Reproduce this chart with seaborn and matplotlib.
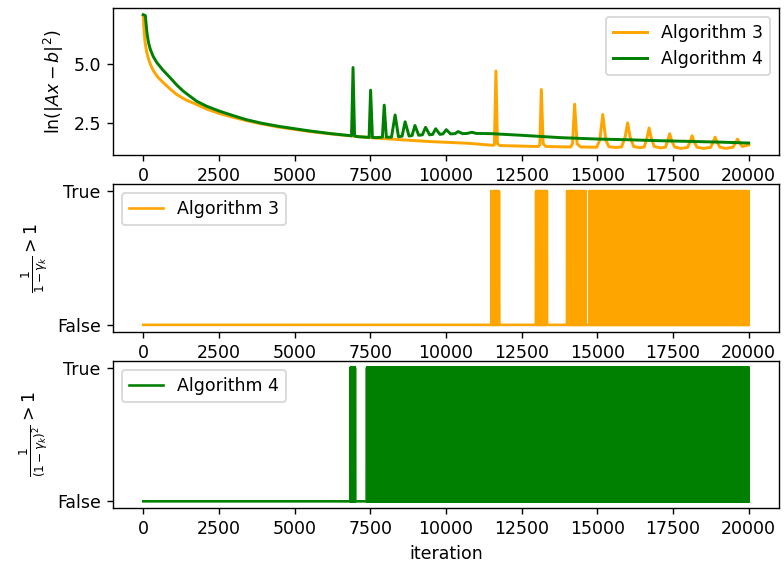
import numpy as np
import matplotlib
matplotlib.use('Agg')
import matplotlib.pyplot as plt
import seaborn as sns

# ln(|Ax-b|^2): (iteration, value) pairs
alg3_iter = [0, 30, 60, 110, 175, 250, 340, 480, 666, 880, 1100, 1400, 1760,
             2100, 2525, 3000, 3400, 3900, 4490, 5500, 6500,
             7500, 8500, 9500, 10720, 11550, 11600, 11650, 11700, 11780,
             13050, 13100, 13150, 13210, 13300, 14120, 14180, 14250, 14330,
             14450, 14980, 15080, 15180, 15280, 15380, 15600,
             15800, 15920, 16000, 16080, 16200, 16400,
             16550, 16640, 16710, 16780, 16880, 17080,
             17250, 17330, 17390, 17450, 17550, 17750,
             17980, 18070, 18130, 18190, 18290, 18500,
             18740, 18830, 18890, 18950, 19050, 19250,
             19480, 19570, 19630, 19690, 19790, 20000]
alg3_loss = [7.08, 6.40, 5.95, 5.55, 5.22, 4.95, 4.71, 4.45, 4.21, 3.95, 3.71,
             3.48, 3.28, 3.08, 2.89, 2.72, 2.59, 2.45, 2.31, 2.12, 1.98,
             1.86, 1.77, 1.69, 1.62, 1.53, 1.56, 4.71, 1.60, 1.52,
             1.48, 1.55, 3.92, 1.60, 1.48, 1.46, 1.60, 3.29, 1.60,
             1.46, 1.45, 1.75, 2.85, 1.75, 1.47, 1.44,
             1.46, 1.90, 2.49, 1.90, 1.48, 1.43,
             1.46, 1.85, 2.27, 1.85, 1.48, 1.42,
             1.45, 1.75, 2.03, 1.75, 1.46, 1.40,
             1.44, 1.70, 1.94, 1.70, 1.45, 1.40,
             1.44, 1.68, 1.88, 1.68, 1.45, 1.40,
             1.45, 1.65, 1.80, 1.65, 1.48, 1.55]

alg4_iter = [0, 70, 120, 170, 230, 330, 450, 650, 885, 1100, 1320, 1760, 2100,
             2525, 3000, 3400, 3900, 4490, 5476,
             6200, 6880, 6930, 6980, 7100, 7460, 7510, 7570, 7700, 7900, 7960,
             8030, 8200, 8320, 8430, 8550, 8650, 8780, 8880, 8975, 9100, 9220,
             9325, 9460, 9560, 9660, 9800, 9900, 10010, 10150, 10300, 10400,
             10550, 10700, 10850, 11000, 11500, 12500, 13770, 15000, 16000,
             17000, 18000, 19000, 20000]
alg4_loss = [7.12, 7.08, 6.37, 5.95, 5.65, 5.33, 5.07, 4.75, 4.43, 4.12, 3.85,
             3.42, 3.20, 2.99, 2.79, 2.63, 2.48, 2.34, 2.15,
             2.03, 1.94, 4.86, 1.93, 1.90, 1.87, 3.89, 1.87, 1.86, 1.88,
             3.25, 1.88, 1.88, 2.83, 1.90, 1.92, 2.54, 1.93, 1.95, 2.38, 1.96,
             1.98, 2.30, 1.98, 2.00, 2.24, 2.00, 2.02, 2.20, 2.02, 2.03, 2.12,
             2.03, 2.04, 2.09, 2.04, 2.03, 1.96, 1.86, 1.80, 1.77, 1.73, 1.70,
             1.67, 1.63]

# stretches of iterations where the condition flips between True and False
n_iter = 20000
alg3_true_blocks = [(11500, 11750), (12975, 13335), (14000, 14610),
                    (14740, 20000)]
alg4_true_blocks = [(6845, 6995), (7390, 20000)]

iterations = np.arange(n_iter + 1)


def condition_flags(blocks):
    flags = np.zeros(n_iter + 1, dtype=int)
    for start, stop in blocks:
        idx = iterations[start:stop + 1]
        flags[start:stop + 1] = ((idx - start) % 2 == 1).astype(int)
    return flags


dpi = 125
fig, (ax1, ax2, ax3) = plt.subplots(3, 1, figsize=(784 / dpi, 568 / dpi),
                                    dpi=dpi)
fig.subplots_adjust(left=0.1441, right=0.9936, top=0.9859, bottom=0.1056,
                    hspace=0.2)

sns.lineplot(x=alg3_iter, y=alg3_loss, ax=ax1, color='orange',
             label='Algorithm 3', estimator=None, linewidth=1.7)
sns.lineplot(x=alg4_iter, y=alg4_loss, ax=ax1, color='green',
             label='Algorithm 4', estimator=None, linewidth=1.7)
ax1.set_yticks([2.5, 5.0])
ax1.set_ylabel(r'$\ln(|Ax-b|^2)$')
ax1.legend(loc='upper right')

sns.lineplot(x=iterations, y=condition_flags(alg3_true_blocks), ax=ax2,
             color='orange', label='Algorithm 3', estimator=None)
ax2.set_yticks([0, 1])
ax2.set_yticklabels(['False', 'True'])
ax2.set_ylabel(r'$\frac{1}{1-\gamma_k} > 1$')
ax2.legend(loc='upper left')

sns.lineplot(x=iterations, y=condition_flags(alg4_true_blocks), ax=ax3,
             color='green', label='Algorithm 4', estimator=None)
ax3.set_yticks([0, 1])
ax3.set_yticklabels(['False', 'True'])
ax3.set_ylabel(r'$\frac{1}{(1-\gamma_k)^2} > 1$')
ax3.set_xlabel('iteration')
ax3.legend(loc='upper left')

fig.savefig('out.png', dpi=dpi)
